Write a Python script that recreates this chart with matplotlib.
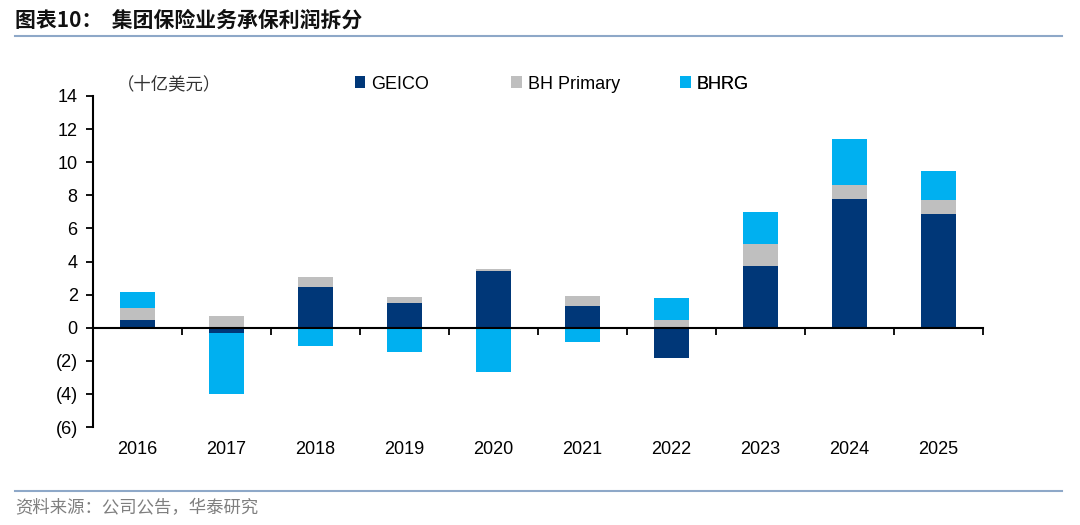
import numpy as np
import matplotlib
matplotlib.use("Agg")
import matplotlib.pyplot as plt
from matplotlib.ticker import FuncFormatter, FixedLocator

plt.rcParams['font.family'] = ['Liberation Sans', 'Noto Sans CJK SC', 'DejaVu Sans']

years = ['2016', '2017', '2018', '2019', '2020', '2021', '2022', '2023', '2024', '2025']
geico = [0.46, -0.31, 2.45, 1.51, 3.43, 1.31, -1.81, 3.73, 7.80, 6.84]
bh_primary = [0.71, 0.72, 0.60, 0.35, 0.13, 0.60, 0.46, 1.31, 0.83, 0.85]
bhrg = [0.97, -3.67, -1.09, -1.45, -2.66, -0.84, 1.31, 1.93, 2.77, 1.79]

series = [('GEICO', geico, '#003778'),
          ('BH Primary', bh_primary, '#BFBFBF'),
          ('BHRG', bhrg, '#00B0F0')]
# legend entry left edges, axes fraction
legend_x = [0.294, 0.470, 0.660]

fig = plt.figure(figsize=(10.8, 5.25), dpi=100)
ax = fig.add_axes([93 / 1080, 98 / 525, 890 / 1080, 331 / 525])

x = np.arange(len(years))
pos_base = np.zeros(len(years))
neg_base = np.zeros(len(years))
handles = []
for name, vals, col in series:
    v = np.array(vals)
    bottom = np.where(v >= 0, pos_base, neg_base)
    b = ax.bar(x, v, width=0.4, bottom=bottom, color=col, label=name, zorder=2)
    handles.append(b)
    pos_base += np.where(v >= 0, v, 0)
    neg_base += np.where(v < 0, v, 0)

ax.set_xlim(-0.5, len(years) - 0.5)
ax.set_ylim(-6, 14)
ax.set_yticks(np.arange(-6, 15, 2))
ax.yaxis.set_major_formatter(FuncFormatter(lambda v, p: f'({abs(int(v))})' if v < 0 else f'{int(v)}'))
ax.tick_params(axis='y', direction='out', length=5, width=1.3, labelsize=13, pad=6)

for s in ['top', 'right']:
    ax.spines[s].set_visible(False)
ax.spines['left'].set_linewidth(1.5)
ax.spines['bottom'].set_position(('data', 0))
ax.spines['bottom'].set_linewidth(1.5)
ax.spines['bottom'].set_zorder(3)
ax.xaxis.set_major_locator(FixedLocator(np.arange(-0.5, len(years), 1)))
ax.tick_params(axis='x', direction='out', length=5, width=1.3, labelbottom=False)

sec = ax.secondary_xaxis(0)
sec.set_xticks(x, years)
sec.spines['bottom'].set_visible(False)
sec.tick_params(axis='x', length=0, labelsize=13, pad=10)

for h, (name, _, _), lx in zip(handles, series, legend_x):
    leg = ax.legend([h], [name], loc='center left', bbox_to_anchor=(lx, 1.036),
                    frameon=False, borderpad=0, borderaxespad=0,
                    handlelength=0.6, handleheight=0.6, handletextpad=0.3,
                    fontsize=13)
    ax.add_artist(leg)

ax.text(0.027, 1.036, '（十亿美元）', transform=ax.transAxes, fontsize=12.5,
        color='#333333', family=['Noto Sans CJK SC'], va='center')

fig.text(15 / 1080, 1 - 20 / 525, '图表10：  集团保险业务承保利润拆分', fontsize=15,
         fontweight='bold', family=['Noto Sans CJK SC'], va='center', color='#111111')
fig.add_artist(plt.Line2D([15 / 1080, 1062 / 1080], [1 - 36 / 525, 1 - 36 / 525],
                          color='#8EA8C8', lw=1.5))
fig.add_artist(plt.Line2D([15 / 1080, 1062 / 1080], [1 - 491 / 525, 1 - 491 / 525],
                          color='#8EA8C8', lw=1.5))
fig.text(15 / 1080, 1 - 508 / 525, '资料来源：公司公告，华泰研究', fontsize=12.5,
         family=['Noto Sans CJK SC'], va='center', color='#7F7F7F')

fig.savefig('out.png', dpi=100)
